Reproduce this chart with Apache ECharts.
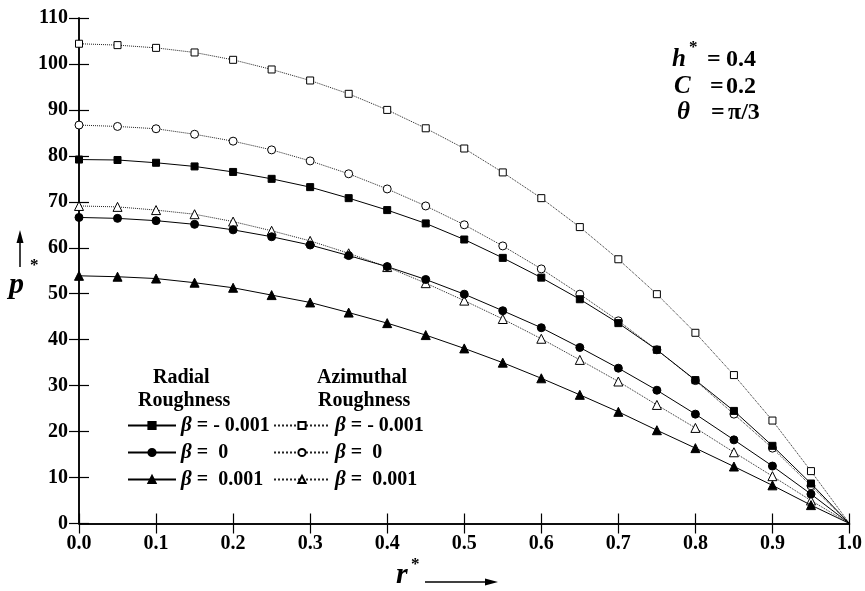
<!DOCTYPE html>
<html>
<head>
<meta charset="utf-8">
<script src="https://cdn.jsdelivr.net/npm/echarts@6/dist/echarts.min.js"></script>
<style>
html,body{margin:0;padding:0;background:#fff;}
#chart{width:865px;height:591px;}
</style>
</head>
<body>
<div id="chart"></div>
<script>
const rValues = [0, 0.05, 0.1, 0.15, 0.2, 0.25, 0.3, 0.35, 0.4, 0.45, 0.5, 0.55, 0.6, 0.65, 0.7, 0.75, 0.8, 0.85, 0.9, 0.95, 1.0];
const radialNeg  = [79.2, 79.1, 78.5, 77.7, 76.5, 75.0, 73.2, 70.8, 68.2, 65.3, 61.8, 57.8, 53.5, 48.8, 43.6, 37.8, 31.2, 24.5, 16.9, 8.7, 0];
const radialZero = [66.6, 66.4, 65.9, 65.1, 63.9, 62.4, 60.6, 58.3, 55.9, 53.1, 49.9, 46.3, 42.6, 38.3, 33.8, 29.0, 23.8, 18.2, 12.5, 6.4, 0];
const radialPos  = [53.9, 53.7, 53.3, 52.4, 51.3, 49.7, 48.1, 45.9, 43.6, 41.0, 38.1, 35.0, 31.6, 28.0, 24.3, 20.3, 16.4, 12.4, 8.3, 4.0, 0];
const azimNeg    = [104.4, 104.1, 103.5, 102.5, 100.9, 98.8, 96.4, 93.5, 90.0, 86.0, 81.6, 76.4, 70.8, 64.5, 57.5, 49.9, 41.5, 32.3, 22.4, 11.4, 0];
const azimZero   = [86.7, 86.4, 85.9, 84.7, 83.2, 81.3, 78.9, 76.1, 72.8, 69.1, 65.0, 60.4, 55.4, 49.9, 44.1, 37.8, 31.1, 23.8, 16.4, 8.2, 0];
const azimPos    = [69.1, 68.9, 68.2, 67.3, 65.7, 63.7, 61.5, 58.8, 55.8, 52.3, 48.5, 44.5, 40.2, 35.6, 30.9, 25.8, 20.8, 15.5, 10.3, 5.0, 0];
const betaLabels = ['- 0.001', ' 0', ' 0.001'];
const radialNames = ['rad-neg', 'rad-zero', 'rad-pos'];
const azimNames = ['az-neg', 'az-zero', 'az-pos'];

const FONT = '"Liberation Serif", "Times New Roman", serif';
const chart = echarts.init(document.getElementById('chart'));

function pairs(ys){ return rValues.map((x,i)=>[x, ys[i]]); }
function symSize(base){ return function(v){ return v[0] >= 1 ? 0 : base; }; }

function mkSeries(name, ys, symbol, filled, dotted, size){
  return {
    name: name, type: 'line', data: pairs(ys),
    symbol: symbol, symbolSize: symSize(size), showAllSymbol: true,
    lineStyle: {color: dotted ? '#222' : '#000', width: 1, type: dotted ? 'dotted' : 'solid'},
    itemStyle: {color: filled ? '#000' : '#fff', borderColor: '#000', borderWidth: 1},
    emphasis: {disabled: true}, animation: false, z: filled ? 3 : 2
  };
}

const legendText = {
  color: '#000', fontFamily: FONT, fontWeight: 'bold', fontSize: 20, lineHeight: 20,
  rich: { b: {fontFamily: FONT, fontStyle: 'italic', fontWeight: 'bold', fontSize: 21, lineHeight: 20, color: '#000'} }
};
function legendFmt(names){
  return function(n){ const i = names.indexOf(n); return '{b|β} = ' + betaLabels[i]; };
}

const axisTxt = {color:'#000', fontFamily: FONT, fontWeight:'bold', fontSize: 20};
const tickStyle = {inside: true, length: 10, lineStyle: {color: '#000', width: 1.2}};

const option = {
  backgroundColor: '#fff',
  animation: false,
  grid: {left: 79, right: 14, top: 18, bottom: 67.5, containLabel: false},
  xAxis: [
    {type: 'value', min: 0, max: 1, interval: 0.1, position: 'bottom',
     axisLine: {lineStyle: {color: '#000', width: 1.5}},
     axisTick: tickStyle,
     axisLabel: Object.assign({margin: 10, formatter: v => v.toFixed(1)}, axisTxt),
     splitLine: {show: false}},
    {type: 'value', min: 0, max: 1, interval: 0.1, position: 'top',
     axisLine: {lineStyle: {color: '#000', width: 1.5}},
     axisTick: tickStyle,
     axisLabel: {show: false}, splitLine: {show: false}}
  ],
  yAxis: [
    {type: 'value', min: 0, max: 110, interval: 10, position: 'left',
     axisLine: {show: true, lineStyle: {color: '#000', width: 1.5}},
     axisTick: Object.assign({show: true}, tickStyle),
     axisLabel: Object.assign({margin: 11}, axisTxt),
     splitLine: {show: false}},
    {type: 'value', min: 0, max: 110, interval: 10, position: 'right',
     axisLine: {show: true, lineStyle: {color: '#000', width: 1.5}},
     axisTick: Object.assign({show: true}, tickStyle),
     axisLabel: {show: false}, splitLine: {show: false}}
  ],
  legend: [
    {data: radialNames, orient: 'vertical', left: 127, top: 415, itemWidth: 48, itemHeight: 9, itemGap: 6,
     textStyle: legendText, formatter: legendFmt(radialNames), selectedMode: false, padding: 0},
    {data: azimNames, orient: 'vertical', left: 273, top: 415, itemWidth: 56, itemHeight: 9, itemGap: 6,
     textStyle: legendText, formatter: legendFmt(azimNames), selectedMode: false, padding: 0}
  ],
  series: [
    mkSeries(radialNames[0], radialNeg, 'rect', true, false, 7),
    mkSeries(radialNames[1], radialZero, 'circle', true, false, 8),
    mkSeries(radialNames[2], radialPos, 'triangle', true, false, 9),
    mkSeries(azimNames[0], azimNeg, 'rect', false, true, 7),
    mkSeries(azimNames[1], azimZero, 'circle', false, true, 8),
    mkSeries(azimNames[2], azimPos, 'triangle', false, true, 9)
  ],
  graphic: [
    // legend headers
    {type:'text', left: 153, top: 368, style:{text:'Radial', font:'bold 20px ' + FONT, fill:'#000'}},
    {type:'text', left: 138, top: 391, style:{text:'Roughness', font:'bold 20px ' + FONT, fill:'#000'}},
    {type:'text', left: 317, top: 368, style:{text:'Azimuthal', font:'bold 20px ' + FONT, fill:'#000'}},
    {type:'text', left: 318, top: 391, style:{text:'Roughness', font:'bold 20px ' + FONT, fill:'#000'}},
    // parameter annotations
    {type:'text', left: 672, top: 47, style:{text:'h', font:'italic bold 25px ' + FONT, fill:'#000'}},
    {type:'text', left: 689, top: 39, style:{text:'*', font:'bold 17px ' + FONT, fill:'#000'}},
    {type:'text', left: 707, top: 48, style:{text:'=', font:'bold 24px ' + FONT, fill:'#000'}},
    {type:'text', left: 726, top: 48, style:{text:'0.4', font:'bold 24px ' + FONT, fill:'#000'}},
    {type:'text', left: 674, top: 74, style:{text:'C', font:'italic bold 25px ' + FONT, fill:'#000'}},
    {type:'text', left: 710, top: 75, style:{text:'=', font:'bold 24px ' + FONT, fill:'#000'}},
    {type:'text', left: 726, top: 75, style:{text:'0.2', font:'bold 24px ' + FONT, fill:'#000'}},
    {type:'text', left: 677, top: 100, style:{text:'θ', font:'italic bold 25px ' + FONT, fill:'#000'}},
    {type:'text', left: 711, top: 101, style:{text:'=', font:'bold 24px ' + FONT, fill:'#000'}},
    {type:'text', left: 728, top: 101, style:{text:'π/3', font:'bold 24px ' + FONT, fill:'#000'}},
    // y axis name with arrow
    {type:'text', left: 9, top: 270, style:{text:'p', font:'italic bold 30px ' + FONT, fill:'#000'}},
    {type:'text', left: 30, top: 257, style:{text:'*', font:'bold 17px ' + FONT, fill:'#000'}},
    {type:'line', shape:{x1:20, y1:267, x2:20, y2:240}, style:{stroke:'#000', lineWidth:1.5}},
    {type:'polygon', shape:{points:[[20,230],[16.5,243],[23.5,243]]}, style:{fill:'#000'}},
    // x axis name with arrow
    {type:'text', left: 396, top: 560, style:{text:'r', font:'italic bold 30px ' + FONT, fill:'#000'}},
    {type:'text', left: 411, top: 556, style:{text:'*', font:'bold 17px ' + FONT, fill:'#000'}},
    {type:'line', shape:{x1:425, y1:582, x2:488, y2:582}, style:{stroke:'#000', lineWidth:1.5}},
    {type:'polygon', shape:{points:[[498,582],[485,578.5],[485,585.5]]}, style:{fill:'#000'}}
  ]
};
chart.setOption(option);
</script>
</body>
</html>
